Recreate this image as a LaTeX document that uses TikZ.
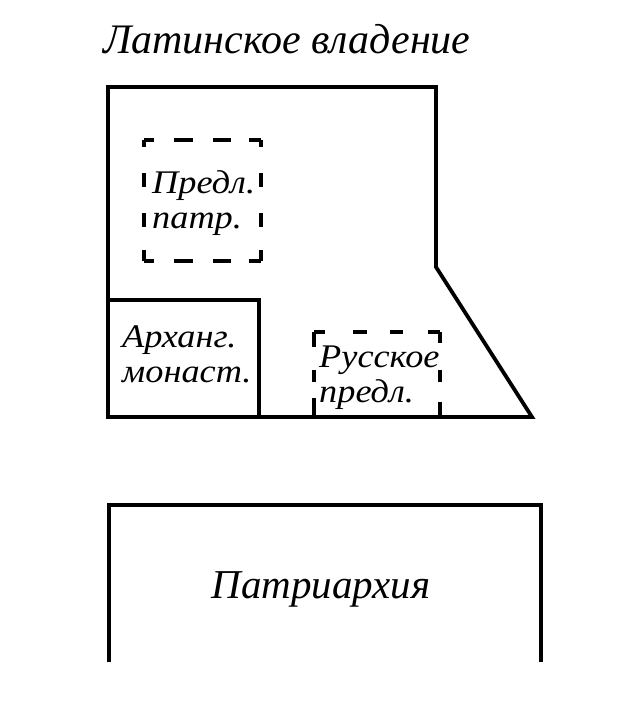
\documentclass[tikz,border=0pt]{standalone}
\usepackage{fontspec}
\setmainfont{Liberation Serif}
\newfontfamily\labfont[FakeStretch=1.1]{Liberation Serif Italic}
\newfontfamily\bigfont{Liberation Serif Italic}
\begin{document}
\begin{tikzpicture}[x=1pt,y=-1pt,
  wall/.style={line width=3.8pt,line join=miter},
  dwall/.style={line width=3.2pt},
  lbl/.style={font=\labfont\fontsize{33}{38}\selectfont,inner sep=0pt,anchor=base west}]
\useasboundingbox (0,0) rectangle (636,710);
% title
\node[inner sep=0pt,anchor=base west,font=\bigfont\fontsize{42}{48}\selectfont] (title) at (103,53) {Латинское владение};
% latin compound outline
\draw[wall] (108,87) -- (436,87) -- (436,267) -- (532,417) -- (108,417) -- cycle;
% archangel monastery
\draw[wall] (108,300) -- (259,300) -- (259,417);
\node[lbl] (arh1) at (122,347) {Арханг.};
\node[lbl] (arh2) at (122,382) {монаст.};
% dashed box 1
\draw[dwall,dash pattern=on 10pt off 20pt on 19pt off 20pt on 18pt off 18pt on 12pt off 200pt] (144,140) -- (261,140);
\draw[dwall,dash pattern=on 10pt off 20pt on 19pt off 20pt on 18pt off 18pt on 12pt off 200pt] (144,261) -- (261,261);
\draw[dwall,dash pattern=on 7pt off 26pt on 14pt off 26pt on 14pt off 23pt on 11pt off 200pt] (144,140) -- (144,261);
\draw[dwall,dash pattern=on 7pt off 26pt on 14pt off 26pt on 14pt off 23pt on 11pt off 200pt] (261,140) -- (261,261);
\node[lbl] (pr1) at (152,193) {Предл.};
\node[lbl] (pr2) at (152,228) {патр.};
% dashed box 2
\draw[dwall,dash pattern=on 11pt off 28pt on 14pt off 23pt on 13pt off 25pt on 12pt off 200pt] (314,332) -- (440,332);
\draw[dwall,dash pattern=on 15pt off 23pt on 12pt off 16pt on 19pt off 200pt] (314,332) -- (314,417);
\draw[dwall,dash pattern=on 11pt off 27pt on 12pt off 20pt on 15pt off 200pt] (440,332) -- (440,417);
\node[lbl] (ru1) at (319,367) {Русское};
\node[lbl] (ru2) at (319,402) {предл.};
% patriarchate
\draw[wall] (109,662) -- (109,505) -- (541,505) -- (541,662);
\node[font=\bigfont\fontsize{41}{47}\selectfont,inner sep=0pt,anchor=base] (pat) at (321,598) {Патриархия};
\end{tikzpicture}
\end{document}
